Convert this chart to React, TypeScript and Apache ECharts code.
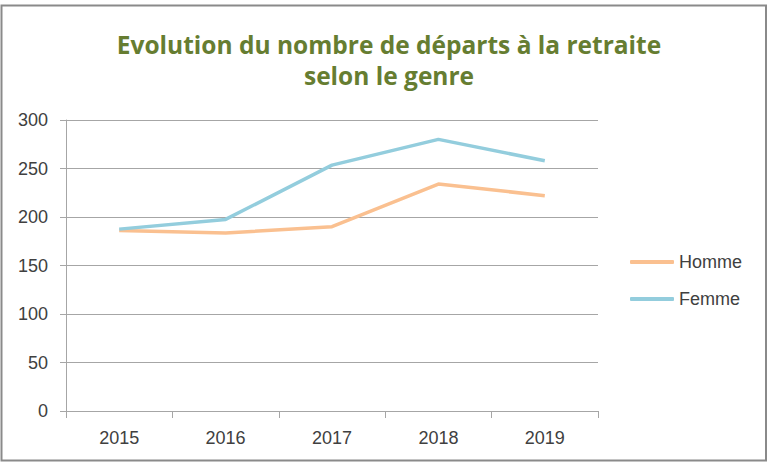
import React, { useEffect, useRef } from "react";
import * as echarts from "echarts";

const years = ["2015", "2016", "2017", "2018", "2019"];
const homme = [186, 183.5, 190, 234, 222];
const femme = [187.5, 197.5, 253.5, 280, 258];
const yTicks = { min: 0, max: 300, interval: 50 };

export default function App() {
  const ref = useRef<HTMLDivElement>(null);
  useEffect(() => {
    document.body.style.margin = "0";
    const chart = echarts.init(ref.current!, undefined, { renderer: "svg" });
    const font = "Liberation Sans, Arial, sans-serif";
    chart.setOption({
      animation: false,
      backgroundColor: "#ffffff",
      textStyle: { fontFamily: font },
      title: {
        text: "Evolution du nombre de départs à la retraite\nselon le genre",
        left: 384,
        top: 24,
        textAlign: "center",
        textStyle: {
          color: "#667D31",
          fontSize: 24.5,
          fontWeight: "bold",
          lineHeight: 31,
          fontFamily: "Open Sans, sans-serif",
        },
      },
      graphic: [
        {
          type: "rect",
          shape: { x: 1.5, y: 5.5, width: 764.5, height: 455 },
          style: { fill: "none", stroke: "#8A8A8A", lineWidth: 2 },
          silent: true,
        },
      ],
      legend: {
        orient: "vertical",
        left: 625,
        top: 248,
        icon: "roundRect",
        itemWidth: 44,
        itemHeight: 4,
        itemGap: 19,
        textStyle: { color: "#404040", fontSize: 18, fontFamily: font },
        data: ["Homme", "Femme"],
      },
      grid: { left: 66, right: 170, top: 120, bottom: 53, containLabel: false },
      xAxis: {
        type: "category",
        data: years,
        boundaryGap: true,
        axisLine: { lineStyle: { color: "#A6A6A6", width: 1 } },
        axisTick: { show: true, length: 7, alignWithLabel: false, lineStyle: { color: "#A6A6A6" } },
        axisLabel: { color: "#404040", fontSize: 18, margin: 18, fontFamily: font },
        splitLine: { show: false },
      },
      yAxis: {
        type: "value",
        min: yTicks.min,
        max: yTicks.max,
        interval: yTicks.interval,
        axisLine: { show: true, lineStyle: { color: "#A6A6A6", width: 1 } },
        axisTick: { show: true, length: 6, lineStyle: { color: "#A6A6A6" } },
        axisLabel: { color: "#404040", fontSize: 18, margin: 18, fontFamily: font },
        splitLine: { show: true, lineStyle: { color: "#A6A6A6", width: 1 } },
      },
      series: [
        {
          name: "Homme",
          type: "line",
          data: homme,
          symbol: "none",
          lineStyle: { color: "#FAC090", width: 3.5 },
          itemStyle: { color: "#FAC090" },
        },
        {
          name: "Femme",
          type: "line",
          data: femme,
          symbol: "none",
          lineStyle: { color: "#93CDDD", width: 3.5 },
          itemStyle: { color: "#93CDDD" },
        },
      ],
    });
    return () => chart.dispose();
  }, []);
  return <div ref={ref} style={{ position: "absolute", left: 0, top: 0, width: 768, height: 464 }} />;
}
